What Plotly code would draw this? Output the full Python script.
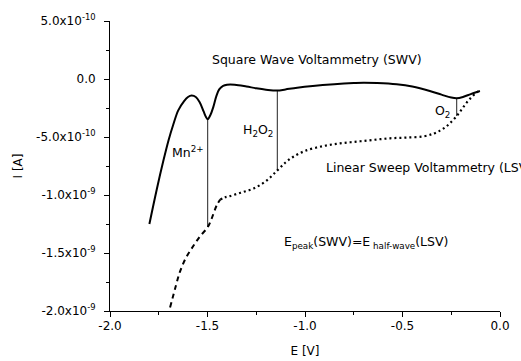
import numpy as np
import plotly.graph_objects as go

# Square wave voltammogram (potential in V, current in 1e-10 A)
swv_e = [-1.798, -1.76, -1.727, -1.70, -1.675, -1.65, -1.62, -1.60, -1.581, -1.56,
         -1.54, -1.52, -1.507, -1.499, -1.485, -1.47, -1.455, -1.44, -1.42, -1.40,
         -1.36, -1.30, -1.25, -1.20, -1.142, -1.10, -1.04, -0.96, -0.85, -0.75,
         -0.70, -0.63, -0.53, -0.45, -0.36, -0.30, -0.25, -0.222, -0.19, -0.15, -0.103]
swv_i = [-12.5, -9.5, -7.1, -5.3, -3.9, -2.7, -1.9, -1.55, -1.43, -1.55,
         -2.0, -2.8, -3.3, -3.47, -3.1, -2.4, -1.5, -0.9, -0.6, -0.5,
         -0.5, -0.65, -0.8, -0.92, -1.0, -0.9, -0.75, -0.6, -0.45, -0.35,
         -0.32, -0.35, -0.46, -0.65, -1.03, -1.35, -1.6, -1.66, -1.55, -1.3, -1.03]

# Linear sweep voltammogram (potential in V, current in 1e-10 A)
lsv_e = [-1.692, -1.665, -1.641, -1.61, -1.573, -1.54, -1.50, -1.48, -1.465, -1.45,
         -1.435, -1.41, -1.385, -1.33, -1.265, -1.20, -1.145, -1.10, -1.06, -1.00,
         -0.906, -0.82, -0.735, -0.65, -0.564, -0.48, -0.393, -0.34, -0.308, -0.28,
         -0.256, -0.222, -0.20, -0.171, -0.145, -0.12, -0.103]
lsv_i = [-19.7, -18.0, -16.6, -15.4, -14.4, -13.6, -12.8, -12.1, -11.4, -10.8,
         -10.4, -10.2, -10.1, -9.8, -9.45, -8.8, -7.93, -7.2, -6.7, -6.2,
         -5.78, -5.55, -5.4, -5.25, -5.11, -5.05, -4.95, -4.7, -4.45, -4.15,
         -3.8, -3.19, -2.7, -2.04, -1.55, -1.15, -1.0]

# Peak potentials marked on both curves
peak_e = [-1.499, -1.142, -0.222]

y_ticks = [5e-10, 0.0, -5e-10, -1e-9, -1.5e-9, -2e-9]
y_tick_text = ["5.0x10<sup>-10</sup>", "0.0", "-5.0x10<sup>-10</sup>",
               "-1.0x10<sup>-9</sup>", "-1.5x10<sup>-9</sup>", "-2.0x10<sup>-9</sup>"]
x_ticks = [-2.0, -1.5, -1.0, -0.5, 0.0]
x_tick_text = ["-2.0", "-1.5", "-1.0", "-0.5", "0.0"]

scale = 1e-10
swv_x = np.array(swv_e)
swv_y = np.array(swv_i) * scale
lsv_x = np.array(lsv_e)
lsv_y = np.array(lsv_i) * scale

FONT = "DejaVu Sans"
fig = go.Figure()

# Vertical connectors between the SWV peaks and the LSV half-wave points
for e in peak_e:
    fig.add_trace(go.Scatter(
        x=[e, e],
        y=[np.interp(e, swv_x, swv_y), np.interp(e, lsv_x, lsv_y)],
        mode="lines", line=dict(color="#222222", width=1),
        showlegend=False, hoverinfo="skip"))

fig.add_trace(go.Scatter(x=swv_x, y=swv_y, mode="lines",
                         line=dict(color="black", width=2, shape="spline"),
                         showlegend=False))

# LSV drawn dashed on the steep branch and dotted on the flatter one
split = 10
fig.add_trace(go.Scatter(x=lsv_x[:split + 1], y=lsv_y[:split + 1], mode="lines",
                         line=dict(color="black", width=2, shape="spline", dash="5px,4px"),
                         showlegend=False))
fig.add_trace(go.Scatter(x=lsv_x[split:], y=lsv_y[split:], mode="lines",
                         line=dict(color="black", width=2.2, shape="spline", dash="2px,3px"),
                         showlegend=False))

txt = dict(family=FONT, size=12.5, color="black")
annots = [
    dict(x=-0.936, y=1.64e-10, text="Square Wave Voltammetry (SWV)", xanchor="center"),
    dict(x=-1.508, y=-6.3e-10, text="Mn<sup>2+</sup>", xanchor="right"),
    dict(x=-1.154, y=-4.48e-10, text="H<sub>2</sub>O<sub>2</sub>", xanchor="right"),
    dict(x=-0.246, y=-2.76e-10, text="O<sub>2</sub>", xanchor="right"),
    dict(x=-0.905, y=-7.67e-10, text="Linear Sweep Voltammetry (LSV)", xanchor="left"),
    dict(x=-1.118, y=-1.41e-9,
         text="E<sub>peak</sub>(SWV)=E<sub> half-wave</sub>(LSV)", xanchor="left"),
]
for a in annots:
    fig.add_annotation(x=a["x"], y=a["y"], text=a["text"], xanchor=a["xanchor"],
                       yanchor="middle", showarrow=False, font=txt)

axis_common = dict(
    showline=True, linecolor="black", linewidth=1, showgrid=False, zeroline=False,
    ticks="outside", ticklen=5, tickwidth=1, tickcolor="black",
    tickfont=dict(family=FONT, size=12, color="black"),
    mirror=False,
)
fig.update_xaxes(range=[-2.0, 0.0], tickvals=x_ticks, ticktext=x_tick_text,
                 minor=dict(dtick=0.25, ticks="outside", ticklen=3, tickcolor="black"),
                 title=dict(text="E [V]", font=dict(family=FONT, size=12, color="black"),
                            standoff=14),
                 ticklabelstandoff=-1,
                 **axis_common)
fig.update_yaxes(range=[-2e-9, 5e-10], tickvals=y_ticks, ticktext=y_tick_text,
                 minor=dict(dtick=2.5e-10, ticks="outside", ticklen=3, tickcolor="black"),
                 title=dict(text="I [A]", font=dict(family=FONT, size=12, color="black"),
                            standoff=10),
                 ticklabelstandoff=6,
                 **axis_common)

fig.update_layout(
    width=521, height=361,
    margin=dict(l=110, r=21, t=21, b=50, autoexpand=False),
    plot_bgcolor="white", paper_bgcolor="white",
    font=dict(family=FONT, size=12, color="black"),
)

fig.write_html("out.html")
